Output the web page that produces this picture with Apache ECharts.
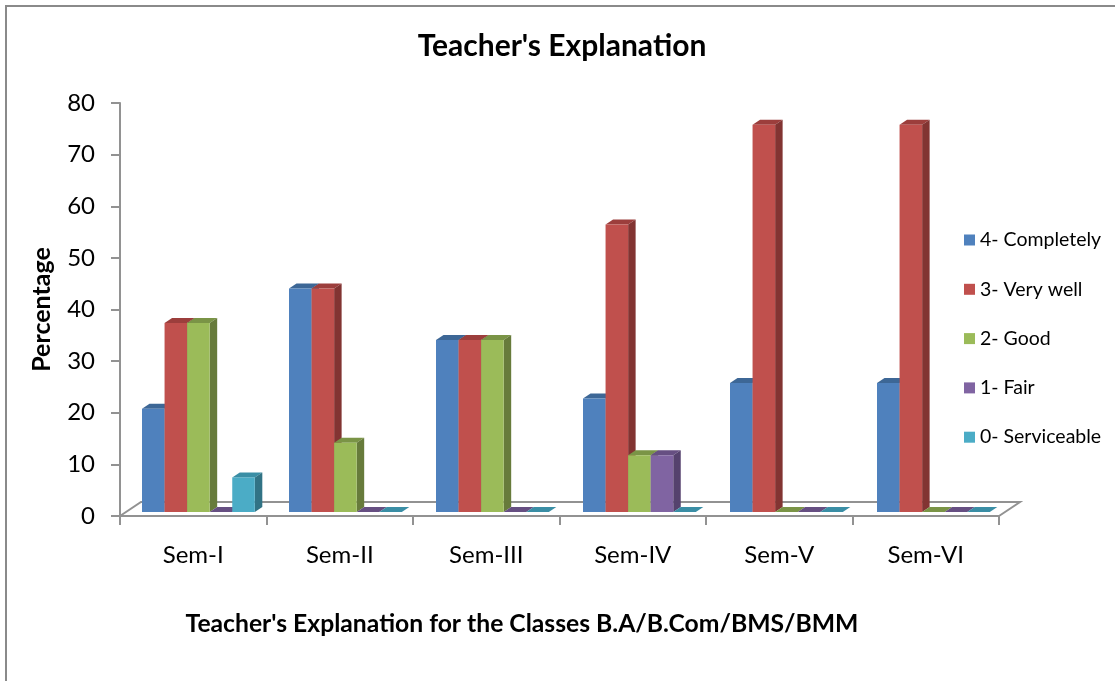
<!DOCTYPE html>
<html>
<head>
<meta charset="utf-8">
<style>
    html, body { margin: 0; padding: 0; background: #fff; }
    #chart { width: 1115px; height: 681px; }
</style>
<script src="https://cdn.jsdelivr.net/npm/echarts@6/dist/echarts.min.js"></script>
</head>
<body>
<div id="chart"></div>
<script>
    var categories = ['Sem-I', 'Sem-II', 'Sem-III', 'Sem-IV', 'Sem-V', 'Sem-VI'];
    var completely = [20, 43.3, 33.3, 22, 25, 25];
    var veryWell = [36.6, 43.3, 33.3, 55.7, 75, 75];
    var good = [36.6, 13.4, 33.3, 11, 0, 0];
    var fair = [0, 0, 0, 11, 0, 0];
    var serviceable = [6.7, 0, 0, 0, 0, 0];

    var names = ['4- Completely', '3- Very well', '2- Good', '1- Fair', '0- Serviceable'];
    var values = [completely, veryWell, good, fair, serviceable];
    // front, top, side
    var shades = [
        ['#4f81bd', '#3d6796', '#3a6290'],
        ['#c0504d', '#9c3e3c', '#823432'],
        ['#9bbb59', '#7a9446', '#677b3b'],
        ['#8064a2', '#664f82', '#55426e'],
        ['#4bacc6', '#3a8ea5', '#317385']
    ];

    var fontName = 'Lato';
    var axisGrey = '#929292';
    var depthX = 7.5, depthY = 5; // bar depth
    var floorX = 21, floorY = 14; // floor depth
    var baseLift = 4;

    function barItem(seriesIdx) {
        return function (params, api) {
            var band = api.size([1, 0])[0];
            var barW = band * 0.154;
            var zero = api.coord([api.value(0), 0]);
            var top = api.coord([api.value(0), api.value(1)]);
            // groups sit a touch wider apart than the ticks in the original
            var x = zero[0] - band / 2 + 22 + api.value(0) * 0.5 + seriesIdx * barW;
            var bottom = zero[1] - baseLift;
            var y = top[1] - baseLift;
            var c = shades[seriesIdx];
            var children = [];
            children.push({
                type: 'polygon',
                shape: { points: [[x, y], [x + barW, y], [x + barW + depthX, y - depthY], [x + depthX, y - depthY]] },
                style: { fill: c[1] }
            });
            if (api.value(1) > 0) {
                children.push({
                    type: 'polygon',
                    shape: { points: [[x + barW, y], [x + barW + depthX, y - depthY], [x + barW + depthX, bottom - depthY], [x + barW, bottom]] },
                    style: { fill: c[2] }
                });
                children.push({
                    type: 'rect',
                    shape: { x: x, y: y, width: barW, height: bottom - y },
                    style: { fill: c[0] }
                });
            }
            return { type: 'group', children: children };
        };
    }

    function floorItem(params, api) {
        var band = api.size([1, 0])[0];
        var a = api.coord([0, 0]);
        var l = a[0] - band / 2, r = l + band * categories.length, y = a[1];
        return {
            type: 'polyline',
            shape: { points: [[l, y], [l + floorX, y - floorY], [r + floorX, y - floorY], [r, y]] },
            style: { fill: 'none', stroke: axisGrey, lineWidth: 2 }
        };
    }

    var series = [{
        type: 'custom',
        silent: true,
        clip: false,
        z: 1,
        renderItem: floorItem,
        data: [[0, 0]]
    }];
    names.forEach(function (name, i) {
        series.push({
            name: name,
            type: 'custom',
            clip: false,
            z: 2,
            itemStyle: { color: shades[i][0] },
            renderItem: barItem(i),
            encode: { x: 0, y: 1 },
            data: values[i].map(function (v, k) { return [k, v]; })
        });
    });

    var option = {
        animation: false,
        backgroundColor: '#fff',
        textStyle: { fontFamily: fontName },
        title: [
            {
                text: "Teacher's Explanation",
                left: 557, top: 41, textAlign: 'center', textVerticalAlign: 'middle',
                textStyle: { fontFamily: fontName, fontSize: 30, fontWeight: 'bold', color: '#000' }
            },
            {
                text: "Teacher's Explanation for the Classes B.A/B.Com/BMS/BMM",
                left: 517, top: 619, textAlign: 'center', textVerticalAlign: 'middle',
                textStyle: { fontFamily: fontName, fontSize: 24.7, fontWeight: 'bold', color: '#000' }
            }
        ],
        legend: {
            orient: 'vertical',
            left: 959, top: 225,
            icon: 'rect',
            itemWidth: 11, itemHeight: 11,
            itemGap: 29.3,
            data: names,
            textStyle: { fontFamily: fontName, fontSize: 19.5, color: '#000' }
        },
        grid: { left: 120, top: 103, width: 879, height: 413 },
        xAxis: {
            type: 'category',
            data: categories,
            axisLine: { lineStyle: { color: axisGrey, width: 2 } },
            axisTick: { show: true, length: 9, lineStyle: { color: axisGrey, width: 2 } },
            axisLabel: { fontFamily: fontName, fontSize: 24, color: '#000', margin: 27 }
        },
        yAxis: {
            type: 'value',
            min: 0, max: 80, interval: 10,
            name: 'Percentage',
            nameLocation: 'middle',
            nameGap: 66,
            nameTextStyle: { fontFamily: fontName, fontSize: 25, fontWeight: 'bold', color: '#000' },
            axisLine: { show: true, lineStyle: { color: axisGrey, width: 2 } },
            axisTick: { show: true, length: 9, lineStyle: { color: axisGrey, width: 2 } },
            axisLabel: { fontFamily: fontName, fontSize: 24, color: '#000', margin: 25, padding: [3, 0, 0, 0] },
            splitLine: { show: false }
        },
        graphic: [{
            type: 'polyline',
            silent: true,
            shape: { points: [[6, 681], [6, 6], [1115, 6]] },
            style: { fill: 'none', stroke: '#8a8a8a', lineWidth: 2 }
        }],
        series: series
    };

    var chart = echarts.init(document.getElementById('chart'));
    chart.setOption(option);
</script>
</body>
</html>
